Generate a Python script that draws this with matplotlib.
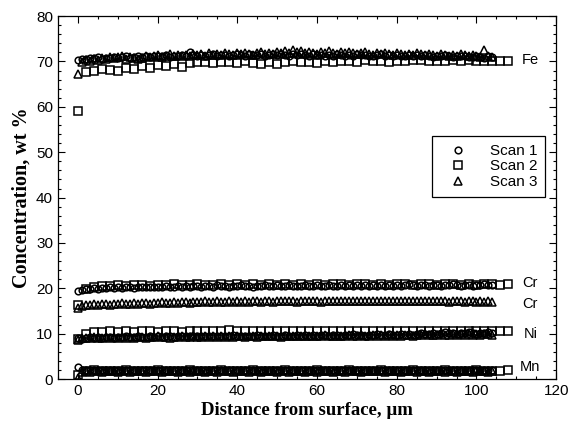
import numpy as np
import matplotlib
matplotlib.use('Agg')
import matplotlib.pyplot as plt
from matplotlib.ticker import MultipleLocator

# scan 1 (circles) and scan 3 (triangles) every 1 um, scan 2 (squares) every 2 um
step13 = 1.0
step2 = 2.0

fe_scan1 = [
    70.4, 70.6, 70.5, 70.8, 70.7, 70.9, 70.6, 70.8, 70.7, 71.0, 70.8, 70.9, 71.1, 70.8, 71.0,
    71.2, 70.9, 71.1, 71.0, 71.3, 71.1, 71.2, 71.4, 71.0, 71.2, 71.3, 71.5, 71.2, 72.0, 71.4,
    71.3, 71.5, 71.2, 71.4, 71.6, 71.3, 71.5, 71.4, 71.2, 71.5, 71.7, 71.4, 71.3, 71.6, 71.5,
    71.4, 71.6, 71.3, 71.5, 71.7, 71.4, 71.6, 71.5, 71.3, 71.6, 71.4, 71.7, 71.5, 71.3, 71.6,
    71.5, 71.4, 71.2, 71.5, 71.3, 71.6, 71.4, 71.2, 71.5, 71.3, 71.6, 71.4, 71.5, 71.3, 71.2,
    71.4, 71.6, 71.3, 71.5, 71.2, 71.4, 71.3, 71.1, 71.4, 71.2, 71.5, 71.3, 71.4, 71.2, 71.0,
    71.3, 71.1, 71.4, 71.2, 71.0, 71.3, 71.1, 71.2, 71.0, 70.9, 71.2, 71.0, 70.8, 71.1, 70.9]
fe_scan2 = [
    59.0, 67.6, 68.0, 68.4, 68.2, 67.8, 68.6, 68.4, 68.9, 68.5, 69.2, 69.0, 69.4, 68.8, 69.6,
    69.8, 69.9, 69.6, 69.9, 69.8, 69.7, 70.1, 69.6, 69.4, 69.8, 69.5, 69.9, 70.0, 69.8, 69.9,
    69.7, 70.1, 69.9, 70.2, 70.0, 69.8, 70.3, 70.0, 70.2, 69.9, 70.1, 70.0, 70.3, 70.4, 70.1,
    70.0, 70.2, 70.4, 70.1, 70.3, 70.0, 70.2, 70.1, 70.0, 70.1]
fe_scan3 = [
    67.2, 69.9, 70.3, 70.1, 70.5, 70.4, 70.8, 70.6, 71.0, 70.7, 70.9, 71.1, 70.6, 70.9, 70.7,
    70.5, 70.8, 71.2, 70.9, 71.1, 71.4, 71.0, 71.3, 71.6, 71.2, 71.4, 71.1, 71.5, 71.3, 71.7,
    71.4, 71.6, 71.3, 71.8, 71.5, 71.7, 71.4, 71.9, 71.6, 71.5, 71.8, 71.6, 71.9, 71.7, 71.5,
    71.8, 72.0, 71.7, 71.9, 71.6, 72.1, 71.8, 72.3, 71.9, 72.5, 72.0, 72.2, 71.8, 72.1, 71.9,
    71.7, 72.0, 71.8, 72.2, 71.9, 71.7, 72.0, 71.8, 72.1, 71.9, 71.6, 71.8, 72.0, 71.7, 71.5,
    71.8, 71.6, 71.9, 71.7, 71.5, 71.8, 71.6, 71.4, 71.7, 71.5, 71.8, 71.6, 71.4, 71.7, 71.5,
    71.3, 71.6, 71.4, 71.2, 71.5, 71.3, 71.6, 71.4, 71.2, 71.5, 71.2, 71.0, 72.5, 71.1, 70.9]

cr_scan1 = [
    19.3, 19.6, 19.8, 19.9, 20.0, 19.9, 20.1, 20.0, 20.2, 20.1, 20.2, 20.0, 20.3, 20.2, 20.1,
    20.3, 20.2, 20.4, 20.3, 20.2, 20.4, 20.3, 20.5, 20.3, 20.4, 20.6, 20.4, 20.5, 20.3, 20.5,
    20.6, 20.4, 20.5, 20.6, 20.4, 20.7, 20.5, 20.6, 20.4, 20.6, 20.5, 20.7, 20.5, 20.6, 20.4,
    20.6, 20.5, 20.7, 20.6, 20.5, 20.7, 20.6, 20.5, 20.7, 20.6, 20.5, 20.6, 20.7, 20.5, 20.6,
    20.7, 20.5, 20.6, 20.8, 20.6, 20.5, 20.7, 20.6, 20.8, 20.6, 20.7, 20.5, 20.7, 20.6, 20.8,
    20.6, 20.7, 20.5, 20.7, 20.6, 20.8, 20.6, 20.7, 20.9, 20.7, 20.6, 20.8, 20.7, 20.6, 20.8,
    20.7, 20.6, 20.8, 20.7, 20.9, 20.7, 20.6, 20.8, 20.7, 20.6, 20.8, 20.7, 20.9, 20.7, 20.8]
cr_scan2 = [
    16.4, 19.8, 20.4, 20.6, 20.5, 20.7, 20.6, 20.8, 20.7, 20.6, 20.8, 20.7, 20.9, 20.8, 20.7,
    20.9, 20.8, 20.7, 20.9, 20.8, 21.0, 20.8, 20.9, 20.7, 20.9, 20.8, 21.0, 20.8, 20.9, 20.7,
    20.9, 20.8, 21.0, 20.9, 20.8, 20.9, 21.0, 20.8, 20.9, 20.8, 21.0, 20.9, 20.8, 21.0, 20.9,
    20.8, 20.9, 21.0, 20.8, 20.9, 20.8, 21.0, 20.9, 20.8, 21.0]
cr_scan3 = [
    15.6, 16.2, 16.4, 16.3, 16.5, 16.4, 16.6, 16.5, 16.4, 16.6, 16.5, 16.7, 16.6, 16.5, 16.7,
    16.6, 16.8, 16.7, 16.6, 16.8, 16.7, 16.9, 16.8, 16.7, 16.9, 16.8, 16.9, 17.0, 16.8, 16.9,
    17.0, 16.9, 17.1, 16.9, 17.0, 17.1, 16.9, 17.0, 17.1, 17.0, 17.2, 17.0, 17.1, 17.0, 17.2,
    17.1, 17.0, 17.2, 17.1, 17.0, 17.2, 17.1, 17.3, 17.1, 17.2, 17.0, 17.2, 17.1, 17.3, 17.1,
    17.2, 17.0, 17.2, 17.1, 17.3, 17.2, 17.1, 17.3, 17.2, 17.1, 17.3, 17.2, 17.1, 17.3, 17.2,
    17.1, 17.3, 17.2, 17.1, 17.2, 17.3, 17.1, 17.2, 17.1, 17.3, 17.2, 17.1, 17.2, 17.1, 17.3,
    17.2, 17.1, 17.2, 17.0, 17.2, 17.1, 17.2, 17.0, 17.1, 17.2, 17.0, 17.1, 16.9, 17.1, 17.0]

ni_scan1 = [
    9.0, 8.9, 9.1, 9.2, 9.0, 9.2, 9.1, 9.3, 9.2, 9.1, 9.3, 9.2, 9.4, 9.2, 9.3,
    9.4, 9.2, 9.3, 9.5, 9.3, 9.4, 9.3, 9.5, 9.4, 9.3, 9.5, 9.4, 9.6, 9.4, 9.5,
    9.4, 9.6, 9.5, 9.4, 9.6, 9.5, 9.4, 9.6, 9.5, 9.7, 9.5, 9.6, 9.4, 9.6, 9.5,
    9.7, 9.5, 9.6, 9.5, 9.7, 9.6, 9.5, 9.7, 9.6, 9.5, 9.7, 9.6, 9.8, 9.6, 9.7,
    9.6, 9.8, 9.7, 9.6, 9.8, 9.7, 9.6, 9.8, 9.7, 9.9, 9.7, 9.8, 9.6, 9.8, 9.7,
    9.9, 9.8, 9.7, 9.9, 9.8, 9.7, 9.9, 9.8, 10.0, 9.8, 9.9, 10.1, 9.9, 10.0, 10.2,
    10.0, 10.1, 10.3, 10.1, 10.2, 10.0, 10.2, 10.1, 10.3, 10.2, 10.0, 10.2, 10.1, 10.3, 10.2]
ni_scan2 = [
    8.8, 10.0, 10.3, 10.4, 10.5, 10.3, 10.5, 10.4, 10.6, 10.5, 10.4, 10.6, 10.5, 10.4, 10.6,
    10.5, 10.7, 10.5, 10.6, 10.8, 10.6, 10.5, 10.7, 10.6, 10.5, 10.7, 10.6, 10.5, 10.7, 10.6,
    10.5, 10.7, 10.6, 10.5, 10.7, 10.6, 10.5, 10.6, 10.7, 10.5, 10.6, 10.7, 10.5, 10.6, 10.7,
    10.5, 10.6, 10.7, 10.5, 10.6, 10.7, 10.6, 10.5, 10.7, 10.6]
ni_scan3 = [
    8.7, 9.0, 9.1, 9.0, 9.2, 9.1, 9.0, 9.2, 9.1, 9.3, 9.1, 9.2, 9.0, 9.2, 9.1,
    9.3, 9.2, 9.1, 9.3, 9.2, 9.4, 9.2, 9.3, 9.1, 9.3, 9.2, 9.4, 9.3, 9.2, 9.4,
    9.3, 9.2, 9.4, 9.3, 9.5, 9.3, 9.4, 9.2, 9.4, 9.3, 9.5, 9.4, 9.3, 9.5, 9.4,
    9.3, 9.5, 9.4, 9.6, 9.4, 9.5, 9.3, 9.5, 9.4, 9.6, 9.5, 9.4, 9.6, 9.5, 9.4,
    9.6, 9.5, 9.7, 9.5, 9.6, 9.4, 9.6, 9.5, 9.7, 9.6, 9.5, 9.7, 9.6, 9.5, 9.7,
    9.6, 9.8, 9.6, 9.7, 9.5, 9.7, 9.6, 9.8, 9.7, 9.6, 9.8, 9.7, 9.9, 9.7, 9.8,
    9.7, 9.9, 9.8, 9.7, 9.9, 9.8, 10.0, 9.8, 9.9, 9.7, 9.9, 9.8, 10.0, 9.9, 9.8]

mn_scan1 = [
    2.6, 1.9, 2.0, 1.9, 2.1, 2.0, 1.9, 2.1, 2.0, 1.9, 2.0, 2.1, 1.9, 2.0, 2.1,
    2.0, 1.9, 2.1, 2.0, 1.9, 2.0, 2.1, 2.0, 1.9, 2.1, 2.0, 1.9, 2.0, 2.1, 2.0,
    1.9, 2.0, 2.1, 1.9, 2.0, 2.0, 2.1, 1.9, 2.0, 2.1, 2.0, 1.9, 2.0, 2.1, 1.9,
    2.0, 2.1, 2.0, 1.9, 2.0, 2.1, 2.0, 1.9, 2.1, 2.0, 1.9, 2.0, 2.1, 2.0, 1.9,
    2.1, 2.0, 1.9, 2.0, 2.1, 1.9, 2.0, 2.1, 2.0, 1.9, 2.0, 2.1, 2.0, 1.9, 2.1,
    2.0, 1.9, 2.0, 2.1, 2.0, 1.9, 2.1, 2.0, 2.0, 1.9, 2.1, 2.0, 1.9, 2.0, 2.1,
    2.0, 1.9, 2.1, 2.0, 1.9, 2.0, 2.1, 2.0, 1.9, 2.0, 2.1, 1.9, 2.0, 2.1, 2.0]
mn_scan2 = [
    1.0, 1.8, 1.9, 1.8, 1.7, 1.8, 1.9, 1.8, 1.7, 1.8, 1.9, 1.8, 1.8, 1.7, 1.9,
    1.8, 1.7, 1.8, 1.9, 1.8, 1.7, 1.8, 1.9, 1.8, 1.8, 1.7, 1.9, 1.8, 1.7, 1.8,
    1.9, 1.8, 1.7, 1.8, 1.9, 1.8, 1.8, 1.7, 1.9, 1.8, 1.7, 1.8, 1.9, 1.8, 1.7,
    1.8, 1.9, 1.8, 1.7, 1.8, 1.9, 1.8, 1.8, 1.7, 1.9]
mn_scan3 = [
    0.3, 1.6, 1.7, 1.6, 1.8, 1.7, 1.6, 1.7, 1.8, 1.7, 1.6, 1.7, 1.8, 1.6, 1.7,
    1.7, 1.8, 1.6, 1.7, 1.8, 1.7, 1.6, 1.7, 1.8, 1.7, 1.6, 1.8, 1.7, 1.6, 1.7,
    1.8, 1.7, 1.6, 1.7, 1.8, 1.6, 1.7, 1.8, 1.7, 1.6, 1.7, 1.8, 1.7, 1.6, 1.8,
    1.7, 1.6, 1.7, 1.8, 1.7, 1.6, 1.8, 1.7, 1.6, 1.7, 1.8, 1.7, 1.6, 1.7, 1.8,
    1.6, 1.7, 1.8, 1.7, 1.6, 1.7, 1.8, 1.6, 1.7, 1.8, 1.7, 1.6, 1.7, 1.8, 1.7,
    1.7, 1.8, 1.6, 1.7, 1.8, 1.7, 1.6, 1.7, 1.8, 1.7, 1.6, 1.8, 1.7, 1.6, 1.7,
    1.8, 1.7, 1.6, 1.7, 1.8, 1.6, 1.7, 1.8, 1.7, 1.6, 1.7, 1.8, 1.7, 1.6, 1.7]

elements = ['Fe', 'Cr', 'Cr', 'Ni', 'Mn']
element_y = [70.3, 21.1, 16.5, 9.9, 2.6]

scan1 = [fe_scan1, cr_scan1, ni_scan1, mn_scan1]
scan2 = [fe_scan2, cr_scan2, ni_scan2, mn_scan2]
scan3 = [fe_scan3, cr_scan3, ni_scan3, mn_scan3]

fig = plt.figure(figsize=(5.74, 4.24), dpi=100)
ax = fig.add_axes([0.101, 0.106, 0.868, 0.856])

mk = dict(linestyle='none', markerfacecolor='none', markeredgecolor='black',
          markeredgewidth=1.1)

for i, vals in enumerate(scan1):
    x = np.arange(len(vals)) * step13
    ax.plot(x, vals, marker='o', markersize=4.8, label='Scan 1' if i == 0 else None, **mk)
for i, vals in enumerate(scan2):
    x = np.arange(len(vals)) * step2
    ax.plot(x, vals, marker='s', markersize=5.5, label='Scan 2' if i == 0 else None, **mk)
for i, vals in enumerate(scan3):
    x = np.arange(len(vals)) * step13
    ax.plot(x, vals, marker='^', markersize=5.8, label='Scan 3' if i == 0 else None, **mk)

for name, yv in zip(elements, element_y):
    ax.text(113.5, yv, name, ha='center', va='center', fontsize=10.5,
            family='Liberation Sans')

ax.set_xlim(-5, 120)
ax.set_ylim(0, 80)
ax.set_xticks([0, 20, 40, 60, 80, 100, 120])
ax.xaxis.set_minor_locator(MultipleLocator(5))
ax.yaxis.set_major_locator(MultipleLocator(10))
ax.yaxis.set_minor_locator(MultipleLocator(2))
ax.tick_params(which='both', direction='in', top=True, right=True, width=0.8)
ax.tick_params(which='major', length=5, labelsize=11)
ax.tick_params(which='minor', length=2.5)
for lab in ax.get_xticklabels() + ax.get_yticklabels():
    lab.set_family('Liberation Sans')
for s in ax.spines.values():
    s.set_linewidth(0.9)

ax.set_xlabel('Distance from surface, \u00b5m', family='Liberation Serif',
              fontweight='bold', fontsize=13.5, labelpad=3)
ax.set_ylabel('Concentration, wt %', family='Liberation Serif',
              fontweight='bold', fontsize=14.5, labelpad=3)

leg = ax.legend(loc='upper right', bbox_to_anchor=(0.977, 0.669), borderaxespad=0,
                frameon=True, fancybox=False, edgecolor='black', framealpha=1,
                prop={'family': 'Liberation Sans', 'size': 11},
                handletextpad=0.9, borderpad=0.5, labelspacing=0.1,
                handlelength=2.4, markerscale=1.0)
leg.get_frame().set_linewidth(0.9)

fig.savefig('out.png', dpi=100)
